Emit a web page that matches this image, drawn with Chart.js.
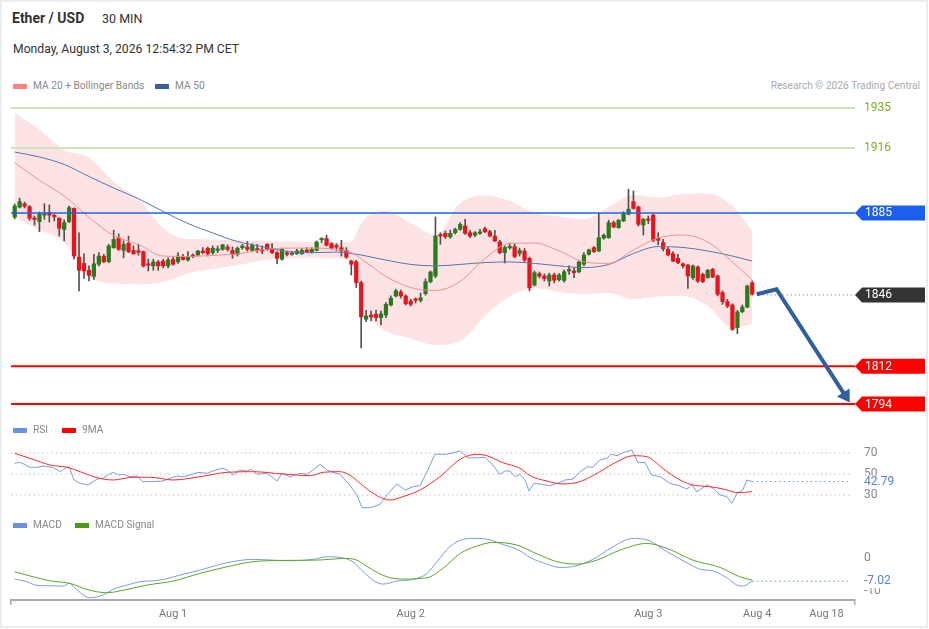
<!DOCTYPE html>
<html>
<head>
<meta charset="utf-8">
<script src="https://cdn.jsdelivr.net/npm/chart.js@4.4.1/dist/chart.umd.min.js"></script>
<style>
    body { margin: 0; background: #fff; font-family: Roboto, Arial, sans-serif; }
    #frame { position: absolute; left: 0; top: 0; width: 924px; height: 624px; border: 2px solid #e8edf1; }
    .abs { position: absolute; white-space: nowrap; }
    canvas { position: absolute; left: 0; }
    .sw { position: absolute; width: 14px; height: 5px; }
    .lg { position: absolute; font-size: 10.2px; color: #888; line-height: 12px; white-space: nowrap; }
</style>
</head>
<body>
<div id="frame"></div>

<canvas id="priceChart" width="929" height="325" style="top:96px"></canvas>
<canvas id="rsiChart" width="929" height="90" style="top:425px"></canvas>
<canvas id="macdChart" width="929" height="114" style="top:515px"></canvas>

<div class="abs" style="left:12px;top:10px;font-size:14px;font-weight:bold;color:#333;line-height:16px">Ether / USD</div>
<div class="abs" style="left:102px;top:11px;font-size:12.5px;color:#333;line-height:16px">30 MIN</div>
<div class="abs" style="left:13px;top:41px;font-size:12.2px;color:#333;line-height:16px">Monday, August 3, 2026 12:54:32 PM CET</div>

<div class="sw" style="left:13px;top:84px;background:#ff8080"></div>
<div class="lg" style="left:33px;top:80px">MA 20 + Bollinger Bands</div>
<div class="sw" style="left:155px;top:84px;background:#3a5fa0"></div>
<div class="lg" style="left:175px;top:80px">MA 50</div>
<div class="lg" style="right:9px;top:80px;color:#aaa">Research © 2026 Trading Central</div>

<div class="sw" style="left:13px;top:428px;background:#6b8fe3"></div>
<div class="lg" style="left:33px;top:424px">RSI</div>
<div class="sw" style="left:62px;top:428px;background:#f00"></div>
<div class="lg" style="left:82px;top:424px">9MA</div>

<div class="sw" style="left:13px;top:523px;background:#6b8fe3"></div>
<div class="lg" style="left:33px;top:519px">MACD</div>
<div class="sw" style="left:75px;top:523px;background:#4a9a1a"></div>
<div class="lg" style="left:95px;top:519px">MACD Signal</div>

<script>
// 30 min candles, index 0 = first candle on the chart
const opens = [
    1883.1,1887.8,1889.4,1888.0,1882.4,1880.9,1884.0,1885.2,1883.7,1882.5,
    1877.2,1880.9,1887.2,1864.0,1861.0,1857.7,1854.8,1860.6,1864.4,1861.8,
    1868.5,1873.2,1867.2,1870.6,1867.2,1866.6,1866.6,1860.8,1859.8,1861.7,
    1862.1,1859.8,1862.9,1861.7,1864.2,1862.6,1864.9,1865.0,1866.9,1868.2,
    1866.1,1867.2,1867.7,1868.8,1867.2,1865.3,1868.5,1868.8,1867.2,1868.0,
    1867.2,1870.1,1868.0,1866.1,1863.0,1865.6,1865.3,1865.6,1865.6,1867.2,
    1866.4,1867.2,1872.2,1872.8,1870.4,1869.3,1868.5,1867.2,1862.1,1861.8,
    1851.8,1834.4,1836.4,1836.8,1835.2,1836.4,1841.2,1845.5,1847.4,1845.5,
    1843.1,1843.6,1843.4,1846.6,1852.3,1855.0,1874.5,1875.3,1873.6,1875.6,
    1877.2,1878.8,1875.6,1874.5,1875.3,1877.5,1876.1,1874.0,1871.3,1866.1,
    1868.4,1869.0,1865.7,1866.9,1863.4,1850.7,1856.1,1855.0,1852.6,1855.5,
    1853.2,1852.9,1857.4,1857.4,1857.0,1860.6,1865.3,1868.5,1866.9,1873.0,
    1873.2,1880.4,1878.0,1881.2,1884.4,1890.4,1887.9,1879.3,1882.0,1884.0,
    1872.9,1870.9,1867.7,1865.6,1863.4,1860.8,1860.2,1854.2,1859.3,1855.8,
    1854.2,1858.2,1855.0,1847.1,1842.8,1841.2,1830.4,1838.0,1840.2,1851.8
];
const highs = [
    1889.3,1892.1,1890.2,1888.5,1883.6,1885.5,1889.4,1888.8,1884.5,1882.8,
    1881.7,1888.3,1887.5,1875.6,1865.5,1859.8,1865.3,1866.1,1865.3,1870.1,
    1876.8,1875.1,1871.7,1874.0,1869.3,1870.1,1866.9,1863.0,1863.0,1862.5,
    1863.0,1863.7,1864.0,1866.1,1865.3,1866.6,1865.6,1867.2,1868.5,1868.8,
    1869.3,1869.3,1870.1,1869.8,1868.8,1868.8,1870.1,1871.4,1870.4,1870.1,
    1869.3,1870.4,1870.4,1866.6,1868.0,1866.9,1866.6,1867.7,1868.2,1868.5,
    1868.5,1871.7,1873.2,1874.5,1870.9,1870.4,1872.0,1868.5,1862.5,1862.5,
    1852.6,1838.6,1838.3,1838.6,1838.3,1842.3,1845.5,1848.8,1848.3,1846.0,
    1844.0,1844.6,1846.9,1853.6,1857.4,1883.1,1875.6,1876.4,1876.8,1877.8,
    1880.4,1882.0,1876.8,1876.1,1877.2,1878.3,1876.8,1876.8,1872.0,1869.3,
    1870.7,1870.2,1868.3,1868.1,1864.0,1857.4,1856.9,1856.0,1856.4,1856.4,
    1856.2,1857.8,1859.8,1858.9,1862.1,1866.1,1867.8,1869.0,1884.9,1875.1,
    1881.5,1881.2,1882.0,1885.6,1896.3,1895.5,1888.3,1882.5,1883.6,1884.4,
    1875.6,1872.5,1868.5,1866.6,1865.3,1861.3,1860.6,1860.2,1859.8,1856.4,
    1858.2,1858.7,1855.5,1847.9,1843.9,1841.8,1838.6,1841.2,1850.7,1852.6
];
const lows = [
    1882.2,1887.4,1887.4,1881.5,1879.3,1876.1,1882.0,1880.7,1881.2,1874.0,
    1871.7,1880.4,1863.0,1847.9,1853.9,1852.6,1853.4,1859.8,1861.3,1861.3,
    1868.2,1867.2,1863.7,1866.1,1865.3,1864.9,1859.3,1857.4,1857.7,1857.7,
    1858.9,1858.9,1860.2,1861.0,1862.5,1862.1,1863.7,1864.5,1865.6,1864.5,
    1865.3,1866.1,1867.2,1866.9,1863.4,1864.5,1867.7,1866.9,1866.9,1866.1,
    1865.6,1867.2,1865.6,1860.9,1862.5,1864.5,1864.9,1865.3,1865.3,1866.1,
    1865.9,1866.9,1870.9,1869.3,1867.7,1867.2,1864.5,1863.4,1855.5,1849.5,
    1820.8,1833.2,1833.6,1833.6,1831.7,1835.2,1840.7,1845.0,1844.5,1841.2,
    1840.7,1842.1,1842.6,1845.9,1851.7,1854.2,1870.1,1872.8,1873.0,1875.0,
    1876.8,1874.8,1873.2,1873.7,1874.8,1875.6,1873.6,1871.3,1865.6,1861.2,
    1867.8,1863.6,1864.5,1861.6,1847.9,1850.2,1854.1,1852.6,1850.2,1851.7,
    1852.6,1852.1,1855.8,1854.2,1856.6,1859.8,1864.9,1866.1,1866.6,1872.5,
    1872.9,1878.0,1877.7,1880.9,1884.1,1886.8,1878.8,1874.5,1879.9,1871.3,
    1869.8,1866.9,1864.5,1861.8,1860.9,1858.9,1849.1,1853.4,1851.8,1851.8,
    1853.9,1854.2,1845.5,1841.5,1839.9,1829.1,1827.5,1837.5,1839.9,1845.9
];
const closes = [
    1888.3,1890.4,1888.2,1882.5,1881.9,1884.4,1884.3,1884.0,1883.2,1877.7,
    1880.4,1887.5,1864.5,1857.7,1857.4,1855.3,1860.8,1864.5,1861.8,1869.3,
    1872.4,1867.7,1870.1,1866.6,1865.6,1866.3,1859.8,1860.1,1861.7,1859.8,
    1859.8,1862.6,1860.6,1864.5,1862.9,1864.0,1864.2,1866.9,1866.1,1865.6,
    1868.2,1867.6,1869.8,1867.7,1865.3,1868.2,1869.3,1867.7,1869.6,1867.2,
    1866.9,1867.7,1866.1,1863.4,1867.7,1865.3,1865.6,1866.9,1867.2,1866.6,
    1867.7,1871.2,1872.7,1869.6,1868.2,1868.8,1866.9,1864.0,1860.6,1851.8,
    1835.5,1836.0,1835.5,1835.2,1837.0,1841.5,1844.4,1847.9,1845.5,1841.8,
    1841.5,1843.4,1844.6,1852.3,1856.9,1874.0,1874.0,1873.7,1875.3,1877.2,
    1879.6,1875.3,1874.0,1875.6,1875.9,1876.1,1874.0,1871.7,1866.1,1868.6,
    1869.0,1864.3,1867.1,1862.6,1849.3,1856.6,1854.9,1853.7,1855.5,1853.0,
    1855.5,1857.0,1857.7,1856.6,1861.7,1865.0,1867.4,1866.6,1873.2,1874.4,
    1880.4,1878.3,1881.5,1884.7,1886.8,1887.2,1879.6,1882.0,1881.5,1872.0,
    1872.0,1868.0,1865.0,1862.1,1861.3,1859.8,1855.0,1859.8,1852.6,1852.3,
    1857.7,1854.5,1846.3,1842.8,1840.7,1829.6,1837.9,1840.2,1850.2,1846.3
];

// moving averages and bollinger bands, read at these candle positions
const indX  = [0,5,10,15,20,25,30,35,40,45,50,55,60,65,68,70,72,75,80,85,90,95,100,105,110,115,120,125,130,135,140,145,149];
const ma20  = [1909.0,1900.5,1893.1,1882.9,1874.3,1870.0,1864.5,1864.3,1864.8,1865.5,1867.4,1868.3,1868.3,1867.7,1866.2,1863.1,1859.8,1854.8,1849.5,1848.1,1852.4,1863.3,1870.5,1870.7,1866.9,1861.7,1861.0,1867.4,1873.1,1874.5,1871.2,1861.7,1853.1];
const ma50  = [1914.0,1911.7,1908.1,1902.4,1896.9,1891.8,1885.7,1880.0,1875.5,1871.4,1869.0,1866.7,1866.1,1866.4,1865.7,1865.0,1864.0,1862.6,1860.5,1859.8,1860.5,1861.4,1861.7,1861.0,1859.8,1859.0,1860.5,1865.7,1869.0,1868.6,1866.9,1864.5,1862.1];
const bbUp  = [1932.6,1924.8,1915.0,1911.4,1899.8,1891.7,1877.9,1872.6,1872.4,1872.1,1871.7,1871.4,1871.2,1871.0,1871.2,1880.2,1884.5,1886.0,1880.2,1874.5,1889.8,1893.3,1890.7,1885.1,1883.3,1882.0,1887.9,1893.6,1892.4,1894.0,1894.3,1888.3,1876.4];
const bbLow = [1882.8,1876.9,1871.0,1854.8,1851.4,1851.0,1852.1,1856.2,1858.3,1860.2,1862.4,1863.3,1863.7,1863.3,1862.1,1843.1,1834.5,1828.8,1825.2,1822.1,1824.0,1836.0,1845.2,1849.3,1847.4,1846.3,1846.9,1843.9,1845.2,1845.5,1840.7,1830.4,1832.0];

const resistances = [1935, 1916];
const pivot = 1885;
const supports = [1812, 1794];
const lastPrice = 1846;

// forecast arrow path
const forecastX = [149.9, 153.9, 168.7];
const forecastY = [1846.3, 1848.7, 1794.7];

// RSI
const rsiX = [0,1,2,3,4.5,5.7,7.7,9.2,10.2,11,12,13.2,14.8,16.6,17.8,18.8,19.9,20.9,21.9,23.3,24.7,25.9,27.9,30,31.4,32.8,34,35.4,37,38.8,40.1,41.9,42.9,44.1,45.5,46.9,47.9,48.9,51,53,54,55.6,57.6,59,60.3,61.7,63.1,64.3,65.7,67.7,69.1,70.2,71.8,73.8,75.2,77.2,78.9,80.5,81.9,83.3,84.9,87.3,90,91.6,93.4,95,96.6,98,99.1,100.1,101.1,102.1,103.1,103.9,104.9,106.5,108.1,109.6,111.2,112.8,114.2,115.8,116.8,118.2,119.6,120.6,121.7,122.9,124.7,125.9,127.3,128.7,130.4,132.4,134.4,135.8,136.8,137.8,139.9,141.1,142.5,143.9,144.9,145.9,147.1,147.9,149];
const rsiValues = [60.2,61.1,59.2,56.4,56.4,57.6,56.4,52.2,55.4,57.0,44.3,41.1,39.5,45.0,45.9,49.0,51.6,49.0,49.7,47.4,48.1,42.7,42.7,43.3,45.9,48.1,47.4,49.0,51.6,50.7,52.9,55.4,53.8,49.0,53.8,52.9,54.5,49.7,50.7,43.3,50.7,47.4,50.7,49.7,53.8,59.2,53.8,51.6,49.7,39.5,30.0,17.9,17.9,21.1,30.0,40.5,34.8,37.9,38.9,52.2,68.8,68.8,71.9,65.3,65.5,65.9,58.6,49.7,52.9,52.9,47.4,49.7,44.3,33.8,41.1,40.2,38.9,41.1,44.3,45.2,52.2,57.0,56.4,63.3,65.0,68.8,67.4,70.3,72.9,60.8,61.1,49.0,47.4,41.1,38.6,35.7,39.5,33.1,39.5,36.4,30.0,28.4,22.1,31.6,34.8,44.3,42.79];
const rsiMaX = [0,3.7,7.1,10.6,13.2,16.6,19.9,23.9,27.3,32,37.4,42.9,48.1,54.2,59.7,62.3,65.7,67.7,69.8,72.4,75.8,78.4,81.9,85.9,90,93.4,95.4,98.6,102.1,104.1,107.5,110.8,114.2,118.2,121.7,124.9,127.7,130.9,134.4,137,140.5,143.9,145.9,149];
const rsiMa = [69.7,64.0,58.6,56.4,52.2,46.5,44.3,46.9,46.9,44.3,47.4,51.6,52.2,50.0,48.4,51.6,52.2,49.0,41.1,31.6,25.2,28.4,34.8,47.4,64.0,68.8,67.4,60.8,55.4,48.4,43.3,40.5,42.7,52.2,61.7,67.4,66.5,55.4,44.3,39.5,37.9,34.8,32.2,33.1];
const rsiLevels = [70, 50, 30];

// MACD
const macdX = [0,2.5,4.5,7.1,9.8,11,12.6,15.2,17.8,20.3,22.7,25.3,29.4,33.4,37.4,42.9,48.1,52.2,56.2,60.3,63.1,65.7,68.3,70.4,72.4,74.4,77.2,80.5,83.3,85.3,87.9,90.6,92.6,95.4,98,102.1,104.1,107.5,110.2,113.2,116.8,120.3,124.9,127.9,131.8,135.8,138.4,141.1,143.9,145.9,147.1,149];
const macdValues = [-6.36,-7.17,-8.28,-8.38,-8.48,-7.68,-9.70,-12.02,-11.21,-9.19,-8.18,-7.17,-6.67,-5.15,-3.64,-1.41,-0.40,-0.61,-0.81,-0.40,0.40,0.20,-1.11,-4.14,-6.67,-7.88,-6.97,-6.46,-4.65,-1.11,3.43,5.66,5.96,5.76,4.44,2.22,0.20,-1.82,-2.83,-2.42,-0.40,2.93,5.96,5.45,1.92,-1.41,-3.33,-3.94,-5.96,-8.18,-8.48,-7.02];
const signalX = [0,3.7,7.1,11.2,14.6,18.6,22.7,26.7,32,37.4,42.9,48.1,54.2,61,67.1,69.1,71.8,75.2,78.4,83.3,86.5,90,93.4,96.6,101.5,105.6,109.6,113.6,117.6,122.3,127.7,131.8,137,142.5,146.5,149];
const signalValues = [-4.14,-5.66,-6.87,-7.68,-9.49,-10.5,-9.49,-8.18,-6.97,-4.65,-2.63,-1.11,-0.71,-0.61,-0.10,-0.61,-3.13,-5.66,-6.36,-5.96,-3.13,1.4,3.64,4.75,3.94,1.21,-1.11,-1.82,-0.61,2.42,4.44,2.93,-0.61,-2.83,-5.66,-6.67];
const macdTicks = [0, -10];

// time axis
const xTickPos = [32, 80, 128, 150, 164];
const xTickLabels = ["Aug 1", "Aug 2", "Aug 3", "Aug 4", "Aug 18"];

const X_MIN = -0.747;
const X_MAX = 169.76;
const FONT = "Roboto, Arial, sans-serif";
const PAD = { left: 11, right: 74 };

function points(xs, ys) {
    return xs.map((x, i) => ({ x: x, y: ys[i] }));
}

function flatLine(value, color, width, dash, toX) {
    return {
        type: "line",
        data: [{ x: X_MIN, y: value }, { x: toX === undefined ? X_MAX : toX, y: value }],
        borderColor: color,
        borderWidth: width,
        borderDash: dash || [],
        pointRadius: 0,
        fill: false,
        order: 1
    };
}

function hiddenX() {
    return { type: "linear", min: X_MIN, max: X_MAX, display: false, offset: false, grid: { offset: false } };
}

function sideText(ctx, text, x, y, color, bg) {
    ctx.font = "12px " + FONT;
    ctx.textBaseline = "middle";
    ctx.textAlign = "left";
    if (bg) {
        let w = ctx.measureText(text).width;
        ctx.fillStyle = bg;
        ctx.fillRect(x - 2, y - 6, w + 4, 13);
    }
    ctx.fillStyle = color;
    ctx.fillText(text, x, y);
}

function tag(ctx, x0, y, text, bg) {
    ctx.beginPath();
    ctx.moveTo(x0, y);
    ctx.lineTo(x0 + 7, y - 7.5);
    ctx.lineTo(925, y - 7.5);
    ctx.lineTo(925, y + 7.5);
    ctx.lineTo(x0 + 7, y + 7.5);
    ctx.closePath();
    ctx.fillStyle = bg;
    ctx.fill();
    sideText(ctx, text, x0 + 10, y + 0.5, "#fff");
}

/* ---------------- PRICE PANEL ---------------- */

const priceExtras = {
    id: "priceExtras",
    afterDatasetsDraw(chart) {
        const { ctx, chartArea, scales } = chart;
        const x = scales.x, y = scales.y;
        const right = chartArea.right;
        ctx.save();

        // dotted line from the last price
        let yl = y.getPixelForValue(lastPrice);
        ctx.strokeStyle = "#666";
        ctx.lineWidth = 1;
        ctx.setLineDash([1, 3]);
        ctx.beginPath();
        ctx.moveTo(x.getPixelForValue(forecastX[0]) + 2, yl);
        ctx.lineTo(right, yl);
        ctx.stroke();
        ctx.setLineDash([]);

        // forecast arrow
        let pts = forecastX.map((v, i) => [x.getPixelForValue(v), y.getPixelForValue(forecastY[i])]);
        let tip = pts[pts.length - 1], prev = pts[pts.length - 2];
        let dx = tip[0] - prev[0], dy = tip[1] - prev[1];
        let len = Math.hypot(dx, dy);
        dx /= len; dy /= len;
        ctx.strokeStyle = "#2f5f9e";
        ctx.fillStyle = "#2f5f9e";
        ctx.lineWidth = 4;
        ctx.lineJoin = "miter";
        ctx.beginPath();
        ctx.moveTo(pts[0][0], pts[0][1]);
        for (let i = 1; i < pts.length - 1; i++) ctx.lineTo(pts[i][0], pts[i][1]);
        ctx.lineTo(tip[0] - dx * 8, tip[1] - dy * 8);
        ctx.stroke();
        ctx.beginPath();
        ctx.moveTo(tip[0], tip[1]);
        ctx.lineTo(tip[0] - dx * 12 - dy * 7.5, tip[1] - dy * 12 + dx * 7.5);
        ctx.lineTo(tip[0] - dx * 12 + dy * 7.5, tip[1] - dy * 12 - dx * 7.5);
        ctx.closePath();
        ctx.fill();

        // right side labels
        for (let r of resistances) sideText(ctx, String(r), right + 9, y.getPixelForValue(r), "#7fae1f");
        tag(ctx, right, y.getPixelForValue(pivot), String(pivot), "#1a5ff0");
        tag(ctx, right, yl, String(lastPrice), "#333333");
        for (let s of supports) tag(ctx, right, y.getPixelForValue(s), String(s), "#ff0000");

        ctx.restore();
    }
};

const candleColors = closes.map((c, i) => c >= opens[i] ? "#2a7a1e" : "#e8141b");

new Chart(document.getElementById("priceChart"), {
    type: "bar",
    data: {
        datasets: [
            {
                type: "line",
                data: points(indX, bbUp),
                borderWidth: 0,
                borderColor: "rgba(0,0,0,0)",
                backgroundColor: "#fde3e3",
                pointRadius: 0,
                cubicInterpolationMode: "monotone",
                fill: "+1",
                order: 10
            },
            {
                type: "line",
                data: points(indX, bbLow),
                borderWidth: 0,
                borderColor: "rgba(0,0,0,0)",
                pointRadius: 0,
                cubicInterpolationMode: "monotone",
                fill: false,
                order: 10
            },
            {
                type: "bar",
                data: highs.map((h, i) => ({ x: i, y: [lows[i], h] })),
                backgroundColor: "#5a4d4d",
                barThickness: 1,
                grouped: false,
                order: 8
            },
            {
                type: "bar",
                data: opens.map((o, i) => ({ x: i, y: [o, closes[i]] })),
                backgroundColor: candleColors,
                barThickness: 3.6,
                minBarLength: 1.5,
                grouped: false,
                order: 7
            },
            {
                type: "line",
                data: points(indX, ma20),
                borderColor: "#f59090",
                borderWidth: 1,
                pointRadius: 0,
                cubicInterpolationMode: "monotone",
                fill: false,
                order: 5
            },
            {
                type: "line",
                data: points(indX, ma50),
                borderColor: "#5577b3",
                borderWidth: 1,
                pointRadius: 0,
                cubicInterpolationMode: "monotone",
                fill: false,
                order: 5
            },
            flatLine(resistances[0], "#cde5bc", 2),
            flatLine(resistances[1], "#cde5bc", 2),
            flatLine(pivot, "#1f62f2", 1.3),
            flatLine(supports[0], "#ff0000", 2),
            flatLine(supports[1], "#ff0000", 2)
        ]
    },
    options: {
        responsive: false,
        animation: false,
        events: [],
        layout: { padding: { left: PAD.left, right: PAD.right, top: 5, bottom: 5 } },
        plugins: { legend: { display: false }, tooltip: { enabled: false } },
        scales: {
            x: hiddenX(),
            y: { type: "linear", min: 1788.33, max: 1938.33, display: false }
        }
    },
    plugins: [priceExtras]
});

/* ---------------- RSI PANEL ---------------- */

const rsiExtras = {
    id: "rsiExtras",
    afterDatasetsDraw(chart) {
        const { ctx, chartArea, scales } = chart;
        const x = scales.x, y = scales.y;
        const right = chartArea.right;
        ctx.save();
        for (let l of rsiLevels) sideText(ctx, String(l), right + 9, y.getPixelForValue(l), "#888");
        let last = rsiValues[rsiValues.length - 1];
        let yl = y.getPixelForValue(last);
        ctx.strokeStyle = "#6b8fe3";
        ctx.lineWidth = 1;
        ctx.setLineDash([1.5, 3]);
        ctx.beginPath();
        ctx.moveTo(x.getPixelForValue(rsiX[rsiX.length - 1]), yl);
        ctx.lineTo(right - 5, yl);
        ctx.stroke();
        ctx.setLineDash([]);
        sideText(ctx, last.toFixed(2), right + 9, yl, "#5b80d8", "#fff");
        ctx.restore();
    }
};

new Chart(document.getElementById("rsiChart"), {
    type: "line",
    data: {
        datasets: [
            flatLine(rsiLevels[0], "#c4c4c4", 1, [1.5, 3], 168.7),
            flatLine(rsiLevels[1], "#c4c4c4", 1, [1.5, 3], 168.7),
            flatLine(rsiLevels[2], "#c4c4c4", 1, [1.5, 3], 168.7),
            {
                data: points(rsiMaX, rsiMa),
                borderColor: "#ff2a2a",
                borderWidth: 1,
                pointRadius: 0,
                cubicInterpolationMode: "monotone",
                fill: false
            },
            {
                data: points(rsiX, rsiValues),
                borderColor: "#7a9be6",
                borderWidth: 1,
                pointRadius: 0,
                tension: 0,
                fill: false
            }
        ]
    },
    options: {
        responsive: false,
        animation: false,
        events: [],
        layout: { padding: { left: PAD.left, right: PAD.right, top: 12.25, bottom: 4.25 } },
        plugins: { legend: { display: false }, tooltip: { enabled: false } },
        scales: {
            x: hiddenX(),
            y: { type: "linear", min: 15, max: 85, display: false }
        }
    },
    plugins: [rsiExtras]
});

/* ---------------- MACD PANEL ---------------- */

const macdExtras = {
    id: "macdExtras",
    afterDatasetsDraw(chart) {
        const { ctx, chartArea, scales } = chart;
        const x = scales.x, y = scales.y;
        const right = chartArea.right;
        ctx.save();
        for (let t of macdTicks) sideText(ctx, String(t), right + 9, y.getPixelForValue(t), "#888");
        let last = macdValues[macdValues.length - 1];
        let yl = y.getPixelForValue(last);
        ctx.strokeStyle = "#6b8fe3";
        ctx.lineWidth = 1;
        ctx.setLineDash([1.5, 3]);
        ctx.beginPath();
        ctx.moveTo(x.getPixelForValue(macdX[macdX.length - 1]), yl);
        ctx.lineTo(right - 5, yl);
        ctx.stroke();
        ctx.setLineDash([]);
        sideText(ctx, last.toFixed(2), right + 9, yl, "#5b80d8", "#fff");
        ctx.restore();
    }
};

const tickValues = [X_MIN].concat(xTickPos, [X_MAX]);

new Chart(document.getElementById("macdChart"), {
    type: "line",
    data: {
        datasets: [
            {
                data: points(signalX, signalValues),
                borderColor: "#5aa824",
                borderWidth: 1,
                pointRadius: 0,
                cubicInterpolationMode: "monotone",
                fill: false
            },
            {
                data: points(macdX, macdValues),
                borderColor: "#7a9be6",
                borderWidth: 1,
                pointRadius: 0,
                cubicInterpolationMode: "monotone",
                fill: false
            }
        ]
    },
    options: {
        responsive: false,
        animation: false,
        events: [],
        layout: { padding: { left: PAD.left, right: PAD.right, top: 20, bottom: 5 } },
        plugins: { legend: { display: false }, tooltip: { enabled: false } },
        scales: {
            x: {
                type: "linear",
                min: X_MIN,
                max: X_MAX,
                offset: false,
                afterBuildTicks: (scale) => { scale.ticks = tickValues.map(v => ({ value: v })); },
                afterFit: (scale) => { scale.height = 24; },
                border: { display: true, color: "#aaaaaa", width: 2 },
                grid: {
                    drawOnChartArea: false,
                    drawTicks: true,
                    tickLength: 5,
                    lineWidth: 1.5,
                    color: (c) => (c.tick && c.tick.label === "") ? "#aaaaaa" : "rgba(0,0,0,0)"
                },
                ticks: {
                    autoSkip: false,
                    maxRotation: 0,
                    padding: 3,
                    color: "#777",
                    font: { family: FONT, size: 11 },
                    callback: (value) => {
                        let k = xTickPos.indexOf(value);
                        return k >= 0 ? xTickLabels[k] : "";
                    }
                }
            },
            y: { type: "linear", min: -12.7, max: 7, display: false }
        }
    },
    plugins: [macdExtras]
});
</script>
</body>
</html>
